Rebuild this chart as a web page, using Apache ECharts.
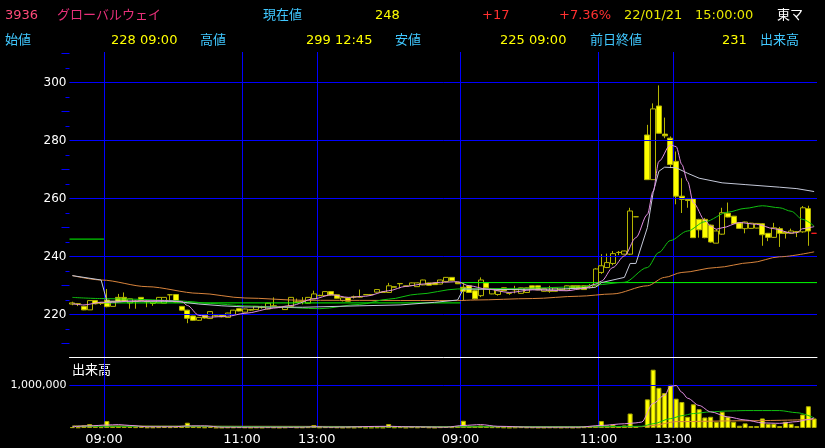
<!DOCTYPE html>
<html>
<head>
<meta charset="utf-8">
<style>
html,body{margin:0;padding:0;background:#000;}
#chart{width:825px;height:448px;}
</style>
<script src="https://cdn.jsdelivr.net/npm/echarts@6/dist/echarts.min.js"></script>
</head>
<body>
<div id="chart"></div>
<script>
// ---------------- DATA ----------------
// 5-minute slots: tail of 01/19, full sessions of 01/20 and 01/21
const dates = ['01/19', '01/20', '01/21'];
const day0Times = ['14:35', '14:40', '14:45', '14:50', '14:55', '15:00'];
const timeTickLabels = ['09:00', '11:00', '13:00'];

// candles: [open, close, low, high]
const day0Candles = [
  [223.6,224.0,223.2,224.4],[223.7,223.6,222.9,223.8],[222.8,221.6,221.5,223.0],[221.6,224.8,221.6,224.8],[224.8,223.7,223.5,224.9],[223.8,224.2,223.3,224.3]
];
const day1Candles = [
  [225.0,222.7,222.5,228.8],[222.8,224.5,222.8,224.6],[225.9,224.5,224.4,227.1],[225.9,224.6,224.5,227.6],[224.0,225.4,222.0,225.5],[224.5,224.6,222.0,224.9],[225.9,224.8,224.7,226.0],[224.6,224.4,222.5,224.8],[223.8,224.3,223.0,224.4],[224.0,225.9,224.0,226.0],
  [223.9,225.9,223.9,226.0],[226.8,226.8,224.8,226.9],[226.9,224.3,224.2,227.0],[222.8,221.5,221.4,222.9],[221.5,218.7,217.0,221.6],[219.5,218.0,217.8,219.6],[218.0,219.0,217.8,219.1],[219.7,218.8,218.6,219.8],[218.6,221.0,218.5,221.1],[219.5,219.6,219.3,219.8],
  [219.8,219.2,219.0,219.9],[219.0,220.5,219.0,220.6],[220.0,221.5,220.0,221.6],[222.0,221.2,221.1,222.1],[220.8,221.9,220.7,222.0],[221.5,221.7,221.3,221.9],[221.7,222.8,221.6,222.9],[222.5,222.6,222.0,223.0],[221.9,223.9,221.8,224.0],[222.9,223.0,222.8,225.9],
  [222.6,222.5,222.2,222.8],[221.7,222.8,221.6,222.9],[222.8,225.9,222.8,226.0],[224.2,224.4,224.0,225.5],[224.5,224.6,223.5,226.0],[223.9,225.9,223.8,226.0],[225.4,227.1,225.4,228.2],[226.5,226.6,226.3,226.8],[226.5,227.9,226.4,228.0],[227.9,226.7,226.6,228.0],
  [226.8,225.6,225.5,226.9],[224.8,225.8,224.5,226.0],[225.7,224.6,224.5,225.8],[226.0,226.1,225.5,226.5],[226.0,226.1,225.8,228.6],[226.8,226.9,226.7,227.0],[226.8,226.9,226.7,227.0],[227.7,228.6,227.6,228.7],[227.6,227.8,227.5,228.0],[227.6,229.9,227.5,230.9],
  [229.4,229.6,229.3,229.7],[230.6,230.7,229.0,230.8],[229.7,229.9,229.6,230.0],[230.0,230.9,229.9,231.0],[229.6,230.9,229.5,231.0],[230.2,231.9,230.1,232.0],[230.9,230.1,230.0,231.0],[230.9,230.3,230.2,231.0],[230.5,231.9,230.4,232.0],[231.4,232.8,231.3,232.9],
  [232.8,231.7,231.6,232.9],[231.1,230.6,230.5,231.2]
];
const day2Candles = [
  [229.4,228.0,225.0,231.0],[229.9,227.6,227.5,230.0],[228.2,225.4,225.2,228.5],[226.5,231.9,226.0,232.8],[230.9,229.2,229.0,231.0],[227.1,228.8,227.0,228.9],[226.9,228.2,226.5,228.5],[229.2,228.2,228.1,229.3],[227.3,227.3,226.8,227.4],[228.5,228.6,227.3,229.9],
  [227.3,229.2,227.2,229.3],[227.6,229.2,227.5,229.3],[229.9,228.8,228.7,230.0],[229.9,228.5,228.4,230.0],[228.0,228.9,227.9,229.0],[228.0,228.2,227.5,229.9],[228.0,229.2,227.9,229.3],[228.5,228.7,228.4,228.8],[228.4,229.9,228.3,230.0],[229.9,229.0,228.9,230.0],
  [229.9,228.8,228.7,230.0],[229.9,228.6,228.5,230.0],[229.4,230.0,229.0,230.5],[229.9,235.7,229.8,236.0],[234.5,236.8,234.0,240.8],[236.2,237.9,236.0,241.0],[237.6,241.0,237.0,241.9],[241.4,241.4,240.5,241.9],[240.8,241.9,240.7,242.0],[240.8,255.7,240.5,256.8],
  [253.7,253.7,253.6,253.8],null,[281.9,266.5,266.5,285.4],[266.5,290.9,266.5,292.8],[291.9,282.5,282.5,299.0],[282.2,281.6,280.8,287.9],[280.8,271.7,270.5,281.4],[272.8,260.8,258.0,276.2],[260.8,259.7,255.0,267.0],[259.7,259.3,256.8,260.2],
  [259.9,246.5,246.4,260.2],[252.8,249.2,246.5,253.0],[252.8,246.5,246.3,253.3],[250.8,245.0,244.8,251.0],[244.6,248.8,244.6,249.4],[247.7,255.1,247.5,256.8],[254.9,253.6,253.5,258.6],[253.9,251.3,251.2,254.0],[251.6,249.7,249.6,251.7],[249.6,251.9,248.0,252.0],
  [249.7,251.5,249.6,251.6],[249.8,251.4,249.7,251.5],[251.3,247.5,243.7,251.5],[248.0,246.6,245.3,248.1],[246.6,249.9,246.4,251.6],[249.6,248.0,243.3,250.2],[248.4,248.0,246.2,248.5],[248.0,248.8,247.8,249.6],[248.4,248.6,246.7,248.8],[248.5,256.8,248.2,257.4],
  [256.5,248.8,243.7,257.5],[248.0,248.0,248.0,248.0]
];

// volume per slot (shares)
const day0Volume = [20000,15000,60000,93000,30000,20000];
const day1Volume = [
  163000,40000,50000,30000,25000,20000,25000,15000,15000,20000,
  25000,20000,30000,40000,124000,40000,20000,15000,25000,10000,
  10000,15000,15000,20000,15000,10000,15000,10000,20000,15000,
  10000,15000,25000,15000,15000,20000,70000,15000,20000,20000,
  15000,10000,15000,10000,20000,10000,10000,15000,10000,94000,
  15000,20000,10000,20000,15000,25000,15000,10000,20000,25000,
  20000,30000
];
const day2Volume = [
  170000,40000,50000,60000,30000,20000,20000,15000,10000,15000,
  20000,15000,15000,10000,10000,15000,15000,10000,15000,10000,
  15000,20000,30000,40000,163000,60000,80000,40000,60000,341000,
  40000,null,674000,1372000,946000,822000,1016000,690000,612000,264000,
  558000,442000,248000,264000,147000,380000,264000,147000,54000,109000,
  46000,46000,225000,100000,100000,46000,147000,100000,46000,318000,
  512000,225000
];

// price lines: [slot, value]
const maShort = [[0,223.7],[2,223.3],[5,224.2],[7,224.2],[10,224.6],[16,224.8],[19,224.5],[20,223.1],[22,219.7],[24,219.1],[27,219.4],[30,220.4],[35,222.2],[38,223.1],[42,225.4],[45,226.8],[48,225.9],[51,226.3],[55,228.2],[58,229.7],[61,230.5],[64,231.1],[67,231.3],[69,229.9],[72,228.8],[76,227.6],[80,228.5],[86,228.2],[89,229.0],[91,230.5],[92,231.5],[94,236.2],[96,240.2],[98,246.5],[100,254.5],[101,262.5],[102,272.8],[104,278.5],[105,277.9],[106,271.7],[107,265.9],[108,258.5],[110,252.5],[111,250.5],[112,249.4],[113,249.9],[116,251.7],[119,251.1],[122,249.6],[125,248.1],[126,248.2],[127,249.6],[129,250.3]];
const vwap = [[0,233.4],[5,231.9],[6,224.6],[12,224.6],[18,224.5],[22,223.6],[26,223.0],[30,222.6],[40,222.5],[50,223.0],[57,223.3],[63,224.2],[67,225.0],[68,228.8],[75,228.6],[85,228.8],[90,229.2],[91,229.4],[92,231.0],[96,232.8],[97,237.6],[98,237.6],[100,250.0],[101,262.0],[102,269.4],[103,270.8],[105,270.6],[107,268.7],[109,267.0],[113,265.4],[117,264.8],[123,263.9],[126,263.4],[129,262.4]];
const maMid = [[0,225.9],[5,225.5],[10,225.3],[18,224.8],[20,224.5],[24,223.8],[30,223.0],[35,222.6],[43,222.0],[50,223.5],[55,225.3],[60,227.0],[67,228.8],[77,229.0],[88,229.5],[91,230.2],[96,231.1],[100,236.2],[102,241.4],[104,245.5],[107,248.8],[110,252.0],[114,255.3],[117,256.6],[120,257.5],[123,256.8],[125,255.6],[127,252.8],[129,250.5]];
const maLong = [[0,233.4],[5,231.9],[13,229.6],[22,227.3],[30,225.7],[40,224.9],[67,224.8],[70,225.0],[80,225.5],[88,226.3],[94,227.1],[100,229.9],[103,232.8],[106,234.5],[112,236.2],[118,237.9],[123,239.9],[129,241.6]];
const prevClose = [246, 224, 231];

// volume lines: [slot, shares]
const volShort = [[0,30000],[3,50000],[6,70000],[8,80000],[10,60000],[13,30000],[18,30000],[20,50000],[23,50000],[26,20000],[40,20000],[42,30000],[45,20000],[55,40000],[58,30000],[65,20000],[68,60000],[71,80000],[74,40000],[80,20000],[88,20000],[92,60000],[96,100000],[98,120000],[99,140000],[101,580000],[103,770000],[104,980000],[105,1000000],[106,840000],[107,700000],[109,530000],[111,380000],[114,260000],[117,190000],[120,120000],[123,110000],[126,150000],[128,200000],[129,240000]];
const volMid = [[0,40000],[20,40000],[40,30000],[67,30000],[90,30000],[99,40000],[101,100000],[104,220000],[106,290000],[108,340000],[111,380000],[114,400000],[117,410000],[123,410000],[126,360000],[129,240000]];
const volLong = [[0,50000],[30,40000],[67,30000],[99,30000],[101,60000],[105,150000],[117,170000],[129,200000]];

// axis ticks
const priceTicks = [220, 240, 260, 280, 300];
const priceMinorTicks = [215, 225, 235, 245, 255, 265, 275, 285, 295, 305];
const priceMidTicks = [210, 230, 250, 270, 290, 310];
const volumeTicks = [1000000];

// header
const headerRow1 = ['3936', 'グローバルウェイ', '現在値', '248', '+17', '+7.36%', '22/01/21', '15:00:00', '東マ'];
const headerRow2 = ['始値', '228 09:00', '高値', '299 12:45', '安値', '225 09:00', '前日終値', '231', '出来高'];
const volumePaneTitle = '出来高';

// ---------------- BUILD ----------------
function sessionTimes() {
  const out = [];
  const add = (a, b) => { for (let t = a; t <= b; t += 5) out.push(String(Math.floor(t / 60)).padStart(2, '0') + ':' + String(t % 60).padStart(2, '0')); };
  add(9 * 60, 11 * 60 + 30);
  add(12 * 60 + 30, 15 * 60);
  return out;
}
const categories = [
  ...day0Times.map(t => dates[0] + ' ' + t),
  ...sessionTimes().map(t => dates[1] + ' ' + t),
  ...sessionTimes().map(t => dates[2] + ' ' + t)
];
const dayBounds = [0, day0Candles.length, day0Candles.length + day1Candles.length, categories.length];

const candleRows = [...day0Candles, ...day1Candles, ...day2Candles];
const RED = '#ff2020';
const candleData = candleRows.map((r, i) => {
  if (!r) return ['-', '-', '-', '-'];
  if (i === candleRows.length - 1) return { value: r, itemStyle: { color: RED, color0: RED, borderColor: RED, borderColor0: RED } };
  return r;
});
const volumeData = [...day0Volume, ...day1Volume, ...day2Volume].map(v => v == null ? '-' : v);

const FONT = '"DejaVu Sans", "Noto Sans CJK JP", sans-serif';
const isMajor = (idx, val) => timeTickLabels.indexOf(String(val).split(' ')[1]) >= 0;
const BLUE = '#0000ff';

const PX_PER_UNIT = 2.9;
const PRICE_TOP = 52, PRICE_BOTTOM = 357.5, BASE_Y = 314.5, BASE_V = 220;
const priceMax = BASE_V + (BASE_Y - PRICE_TOP) / PX_PER_UNIT;
const priceMin = BASE_V - (PRICE_BOTTOM - BASE_Y) / PX_PER_UNIT;
const VOL_TOP = 357.5, VOL_BOTTOM = 428, PX_PER_M = 42.5;
const volMax = (VOL_BOTTOM - VOL_TOP) / PX_PER_M * 1e6;

const lineSeries = (name, data, color, xi, yi, smooth, z) => ({
  name, type: 'line', data, xAxisIndex: xi, yAxisIndex: yi, showSymbol: false, symbol: 'none',
  smooth: smooth ? 0.3 : false, smoothMonotone: 'x', lineStyle: { color, width: 1 }, z: z || 5, silent: true
});

const prevCloseSeries = prevClose.map((v, d) => lineSeries('prev' + d, [[dayBounds[d], v], [dayBounds[d + 1], v]], '#00ff00', 2, 0, false, 4));

const row1Colors = ['#ff4a7a', '#e8307a', '#40c8ff', '#ffff00', '#ff3030', '#ff3030', '#e8e800', '#e8e800', '#ffffff'];
const row1X = [5, 57, 263, 375, 482, 559, 624, 695, 777];
const row2Colors = ['#40c8ff', '#ffff00', '#40c8ff', '#ffff00', '#40c8ff', '#ffff00', '#40c8ff', '#ffff00', '#40c8ff'];
const row2X = [5, 111, 200, 306, 395, 500, 590, 722, 760];
const textEl = (text, x, y, fill) => ({ type: 'text', x, y, silent: true, style: { text, fill, font: '13px ' + FONT, verticalAlign: 'middle', align: 'left' } });
const graphics = [
  ...headerRow1.map((t, i) => textEl(t, row1X[i], 16, row1Colors[i])),
  ...headerRow2.map((t, i) => textEl(t, row2X[i], 41, row2Colors[i])),
  textEl(volumePaneTitle, 72, 371, '#ffffff')
];

const gridLeft = 69.5, gridWidth = 747.5;
const option = {
  backgroundColor: '#000',
  animation: false,
  textStyle: { fontFamily: FONT },
  grid: [
    { left: gridLeft, width: gridWidth, top: PRICE_TOP, height: PRICE_BOTTOM - PRICE_TOP },
    { left: gridLeft, width: gridWidth, top: VOL_TOP, height: VOL_BOTTOM - VOL_TOP }
  ],
  xAxis: [
    { type: 'category', gridIndex: 0, position: 'bottom', data: categories, boundaryGap: true,
      axisLine: { show: true, onZero: false, lineStyle: { color: '#ffffff', width: 1 } },
      axisTick: { show: false }, axisLabel: { show: false },
      splitLine: { show: true, interval: isMajor, showMaxLine: false, lineStyle: { color: BLUE, width: 1 } } },
    { type: 'category', gridIndex: 1, position: 'bottom', data: categories, boundaryGap: true,
      axisLine: { show: false }, axisTick: { show: false },
      axisLabel: { show: true, interval: isMajor, formatter: v => v.split(' ')[1], color: '#ffffff', fontSize: 13, fontFamily: FONT, margin: 5, padding: [0, 5.75, 0, 0] },
      splitLine: { show: true, interval: isMajor, showMaxLine: false, lineStyle: { color: BLUE, width: 1 } } },
    { type: 'value', gridIndex: 0, position: 'bottom', min: 0, max: categories.length, show: false }
  ],
  yAxis: [
    { type: 'value', gridIndex: 0, position: 'left', min: priceMin, max: priceMax,
      axisLine: { show: false }, splitLine: { show: false },
      axisLabel: { customValues: priceTicks, color: '#ffffff', fontSize: 12, fontFamily: FONT, margin: 3 },
      axisTick: { show: true, customValues: priceMinorTicks, length: 4, lineStyle: { color: BLUE } } },
    { type: 'value', gridIndex: 0, position: 'left', min: priceMin, max: priceMax,
      axisLine: { show: false }, splitLine: { show: false }, axisLabel: { show: false },
      axisTick: { show: true, customValues: priceMidTicks, length: 8, lineStyle: { color: BLUE } } },
    { type: 'value', gridIndex: 1, position: 'left', min: 0, max: volMax,
      axisLine: { show: false }, splitLine: { show: false }, axisTick: { show: false },
      axisLabel: { customValues: volumeTicks, formatter: v => Number(v).toLocaleString('en-US'), color: '#ffffff', fontSize: 11, fontFamily: FONT, margin: 3 } }
  ],
  graphic: graphics,
  series: [
    { name: 'pgrid', type: 'line', xAxisIndex: 0, yAxisIndex: 0, data: [], z: 1, silent: true,
      markLine: { silent: true, symbol: ['none', 'none'], label: { show: false }, animation: false,
        lineStyle: { color: BLUE, width: 1, type: 'solid' }, data: priceTicks.map(v => ({ yAxis: v })) } },
    { name: 'vgrid', type: 'line', xAxisIndex: 1, yAxisIndex: 2, data: [], z: 1, silent: true,
      markLine: { silent: true, symbol: ['none', 'none'], label: { show: false }, animation: false,
        lineStyle: { color: BLUE, width: 1, type: 'solid' }, data: volumeTicks.map(v => ({ yAxis: v })) } },
    { name: 'price', type: 'candlestick', xAxisIndex: 0, yAxisIndex: 0, data: candleData, barWidth: 5.5, z: 3, silent: true,
      itemStyle: { color: '#000000', color0: '#ffff00', borderColor: '#b4b400', borderColor0: '#b4b400', borderWidth: 1 } },
    ...prevCloseSeries,
    lineSeries('long', maLong, '#d8843c', 0, 0, true),
    lineSeries('mid', maMid, '#10c010', 0, 0, true),
    lineSeries('vwap', vwap, '#c4c8d8', 0, 0, false),
    lineSeries('short', maShort, '#e28ee2', 0, 0, true),
    { name: 'volume', type: 'bar', xAxisIndex: 1, yAxisIndex: 2, data: volumeData, barWidth: 5, z: 3, silent: true,
      itemStyle: { color: '#ffff00', borderColor: '#a8a800', borderWidth: 1 } },
    lineSeries('vlong', volLong, '#d8843c', 1, 2, true),
    lineSeries('vmid', volMid, '#10c010', 1, 2, true),
    lineSeries('vshort', volShort, '#e28ee2', 1, 2, true)
  ]
};

const chart = echarts.init(document.getElementById('chart'), null, { renderer: 'canvas' });
chart.setOption(option);
</script>
</body>
</html>
